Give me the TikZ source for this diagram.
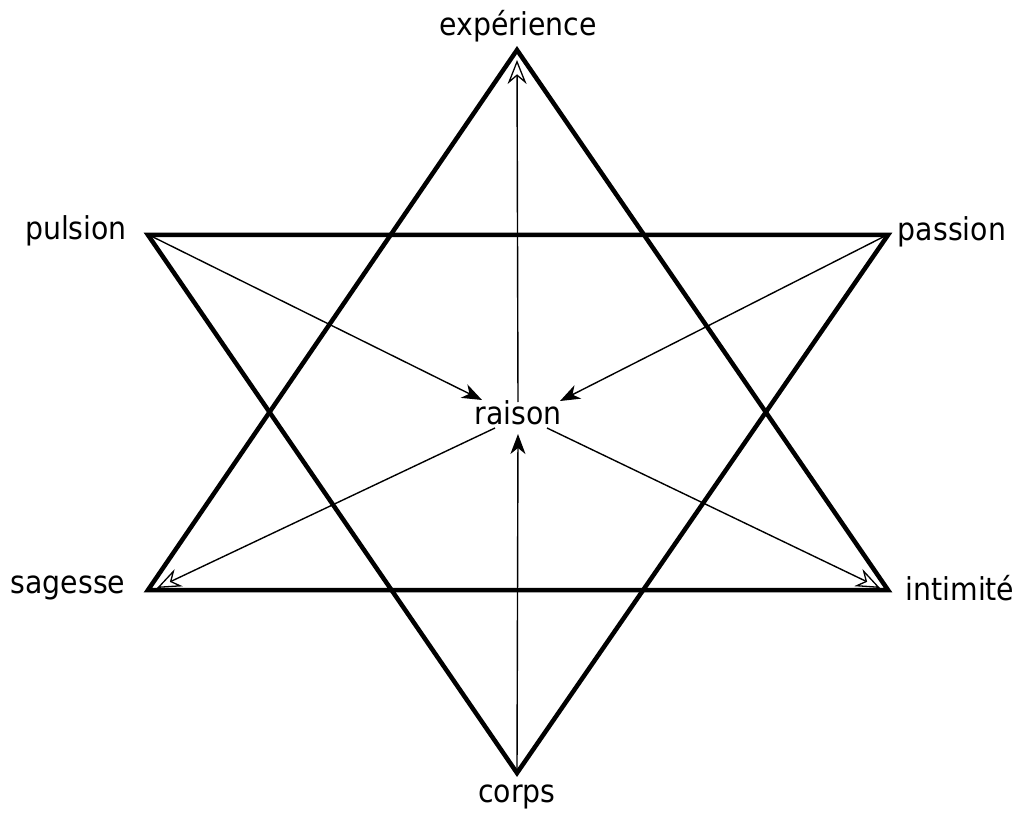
\documentclass[tikz,border=0pt]{standalone}
\usepackage{fontspec}
\setmainfont{DejaVu Sans Condensed}
\usetikzlibrary{arrows.meta}
\begin{document}
\begin{tikzpicture}[x=1pt,y=-1pt,
  star/.style={line width=4.5pt,line join=miter,miter limit=20},
  thin/.style={line width=1.4pt},
  inarrow/.style={thin,-{Stealth[length=20pt,width=15pt,inset=6pt]}},
  outarrow/.style={thin,-{Stealth[open,length=24pt,width=19pt,inset=8pt,line width=1.3pt]}},
  lbl/.style={font=\fontsize{31.5}{36}\selectfont,inner sep=0pt}]
\useasboundingbox (0,0) rectangle (1018,813);
\coordinate (T) at (517,50);
\coordinate (B) at (517,773);
\coordinate (UL) at (148,235);
\coordinate (UR) at (888,235);
\coordinate (LL) at (148,590);
\coordinate (LR) at (888,590);
% star
\draw[star] (T) -- (LR) -- (LL) -- cycle;
\draw[star] (UL) -- (UR) -- (B) -- cycle;
% labels
\node[lbl] (exp) at (518,26) {expérience};
\node[lbl] (pul) at (76,231) {pulsion};
\node[lbl] (pas) at (952,232) {passion};
\node[lbl] (sag) at (68,588) {sagesse};
\node[lbl] (int) at (960,588) {intimité};
\node[lbl] (cor) at (517,797) {corps};
\node[lbl] (rai) at (518,413) {raison};
% arrow ends
\coordinate (rT) at (518,402);
\coordinate (rB) at (518,434);
\coordinate (rUL) at (482,400);
\coordinate (rUR) at (560,401);
\coordinate (rLL) at (495,428);
\coordinate (rLR) at (547,428);
\coordinate (eT) at (517,60);
\coordinate (eLL) at (157,588);
\coordinate (eLR) at (880,588);
\coordinate (sUL) at (151,236);
\coordinate (sUR) at (885,236);
\coordinate (sB) at (517,770);
% arrows
\draw[inarrow] (sB) -- (rB);
\draw[inarrow] (sUL) -- (rUL);
\draw[inarrow] (sUR) -- (rUR);
\draw[outarrow] (rT) -- (eT);
\draw[outarrow] (rLL) -- (eLL);
\draw[outarrow] (rLR) -- (eLR);
\end{tikzpicture}
\end{document}
